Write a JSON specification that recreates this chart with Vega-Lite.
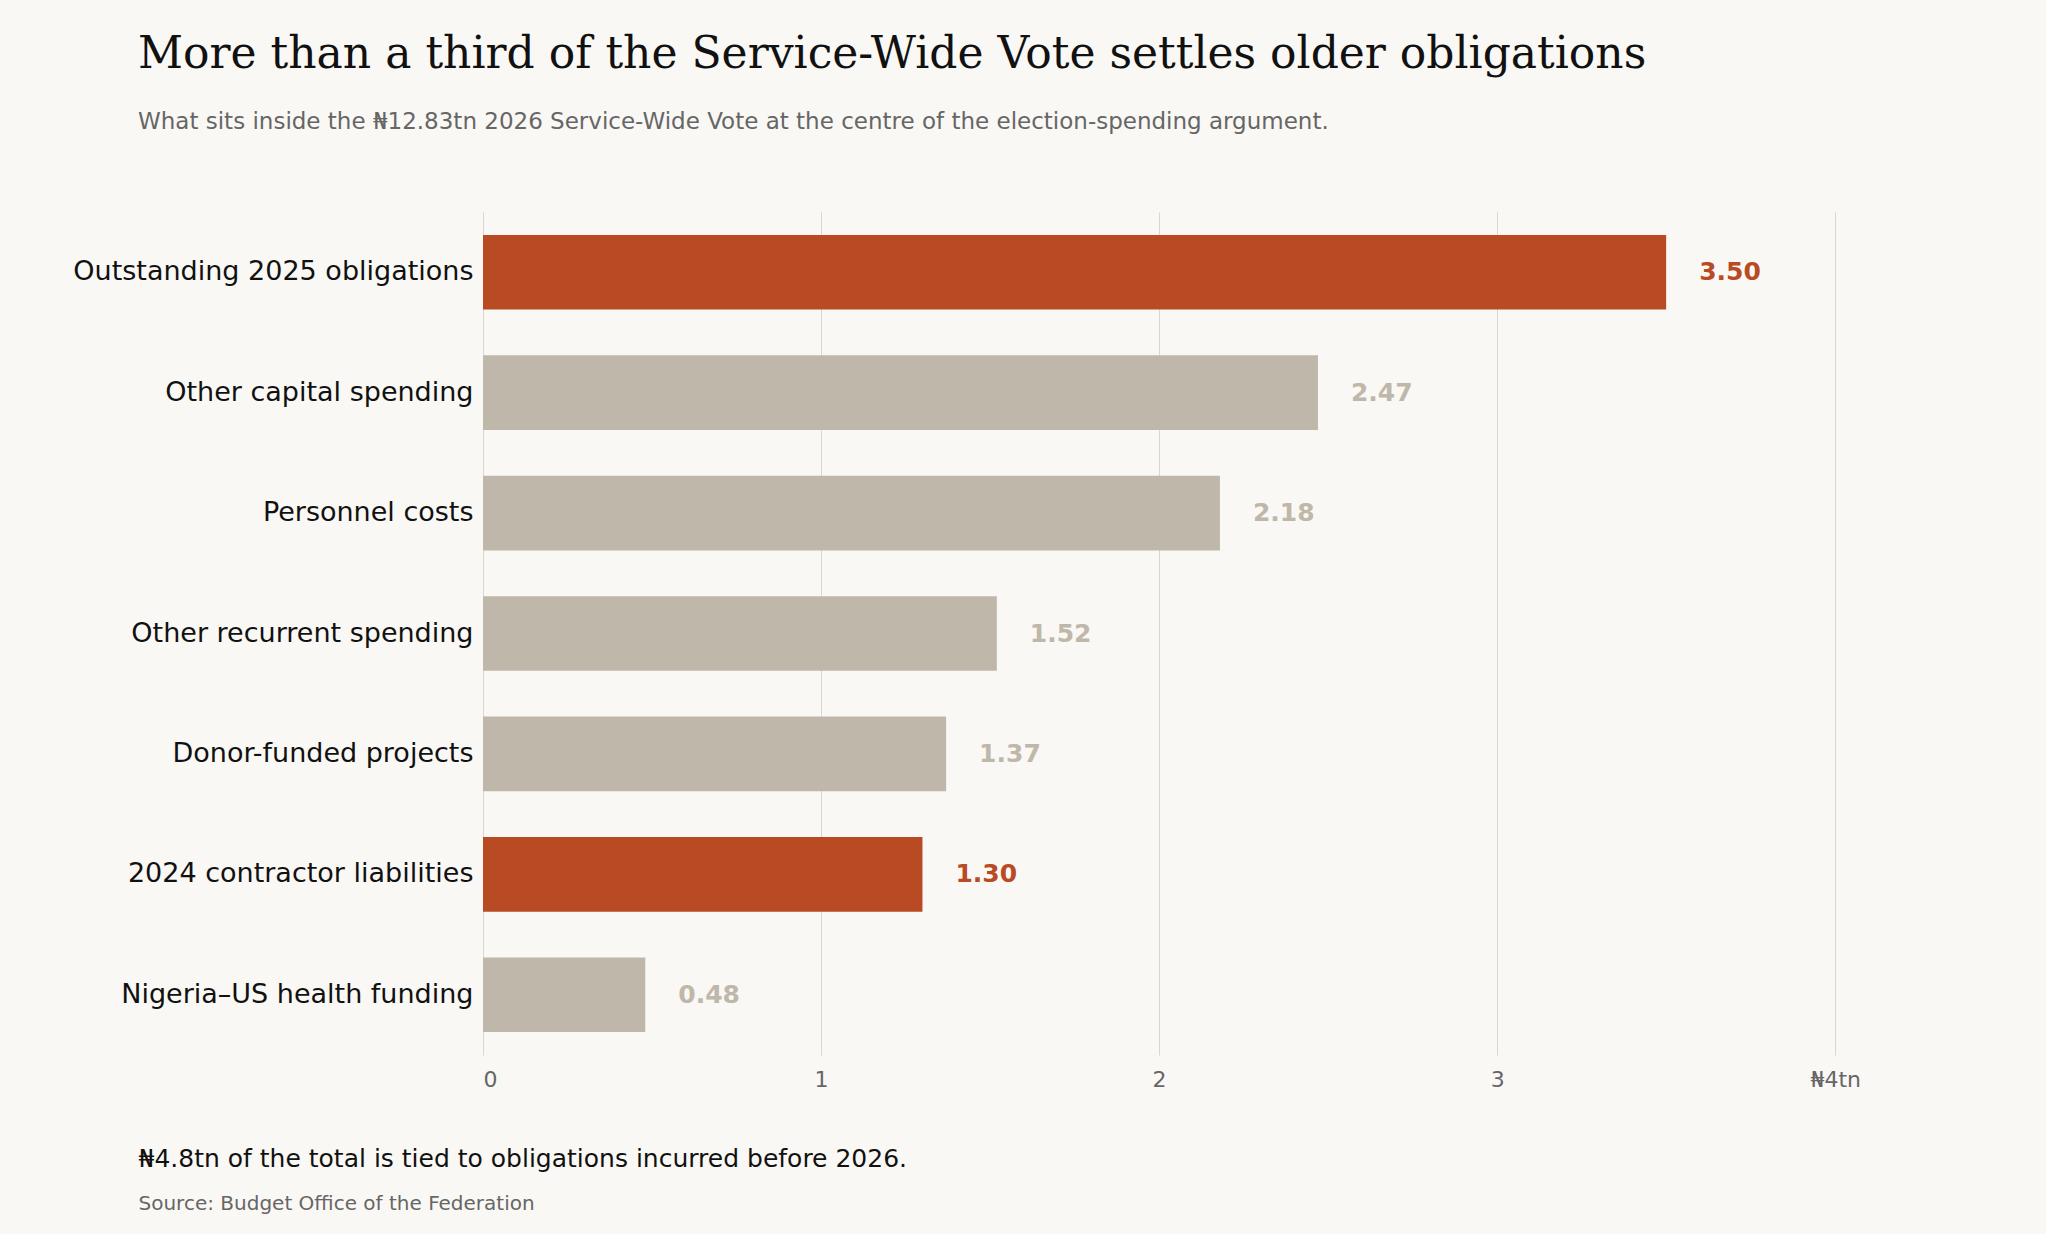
{
  "$schema": "https://vega.github.io/schema/vega-lite/v6.json",
  "width": 1555,
  "height": 843,
  "autosize": "none",
  "padding": {"left": 483, "top": 212, "right": 8, "bottom": 179},
  "background": "#FAF8F4",
  "config": {"view": {"stroke": null}, "font": "DejaVu Sans"},
  "title": {
    "text": "More than a third of the Service-Wide Vote settles older obligations",
    "subtitle": "What sits inside the ₦12.83tn 2026 Service-Wide Vote at the centre of the election-spending argument.",
    "anchor": "start",
    "frame": "group",
    "dx": -345,
    "offset": 78,
    "font": "DejaVu Serif",
    "fontSize": 44,
    "fontWeight": "normal",
    "color": "#111111",
    "subtitleFont": "DejaVu Sans",
    "subtitleFontSize": 23,
    "subtitleColor": "#666666",
    "subtitlePadding": 34
  },
  "data": {
    "values": [
      {"item": "Outstanding 2025 obligations", "value": 3.50, "older": true},
      {"item": "Other capital spending", "value": 2.47, "older": false},
      {"item": "Personnel costs", "value": 2.18, "older": false},
      {"item": "Other recurrent spending", "value": 1.52, "older": false},
      {"item": "Donor-funded projects", "value": 1.37, "older": false},
      {"item": "2024 contractor liabilities", "value": 1.30, "older": true},
      {"item": "Nigeria–US health funding", "value": 0.48, "older": false}
    ]
  },
  "encoding": {
    "y": {
      "field": "item", "type": "nominal", "sort": null,
      "scale": {"paddingInner": 0.38, "paddingOuter": 0.19},
      "axis": {
        "title": "Source: Budget Office of the Federation",
        "titleAngle": 0, "titleAlign": "left", "titleBaseline": "middle",
        "titleX": -345, "titleY": 991,
        "titleFontSize": 20, "titleFontWeight": "normal", "titleColor": "#666666",
        "labelFontSize": 27, "labelColor": "#111111", "labelPadding": 10,
        "ticks": false, "domain": false, "labelLimit": 500
      }
    },
    "x": {
      "field": "value", "type": "quantitative",
      "scale": {"domain": [0, 4.6], "nice": false},
      "axis": {
        "values": [0, 1, 2, 3, 4],
        "labelExpr": "datum.value == 4 ? '₦4tn' : datum.label",
        "title": "₦4.8tn of the total is tied to obligations incurred before 2026.",
        "titleX": -345, "titleY": 103, "titleAlign": "left", "titleAnchor": "start",
        "titleBaseline": "middle",
        "titleFontSize": 25, "titleFontWeight": "normal", "titleColor": "#111111",
        "labelFontSize": 22, "labelColor": "#666666", "labelPadding": 14,
        "grid": true, "gridColor": "#DAD7D1", "ticks": false, "domain": false
      }
    }
  },
  "layer": [
    {
      "mark": {"type": "bar"},
      "encoding": {
        "color": {
          "field": "older", "type": "nominal", "legend": null,
          "scale": {"domain": [true, false], "range": ["#B84A24", "#BEB7AA"]}
        }
      }
    },
    {
      "mark": {"type": "text", "align": "left", "dx": 33, "fontSize": 25, "fontWeight": "bold", "baseline": "middle"},
      "encoding": {
        "text": {"field": "value", "type": "quantitative", "format": ".2f"},
        "color": {
          "field": "older", "type": "nominal", "legend": null,
          "scale": {"domain": [true, false], "range": ["#B84A24", "#111111"]}
        }
      },
      "transform": []
    },
    {
      "data": {"values": [{"item": "Outstanding 2025 obligations", "note": "older bills inside a current budget"}]},
      "mark": {"type": "text", "align": "right", "baseline": "middle", "dy": -63, "fontSize": 24, "fontWeight": "bold", "fontStyle": "italic", "color": "#B84A24"},
      "encoding": {
        "x": {"datum": 4.57},
        "text": {"field": "note"}
      }
    }
  ]
}
